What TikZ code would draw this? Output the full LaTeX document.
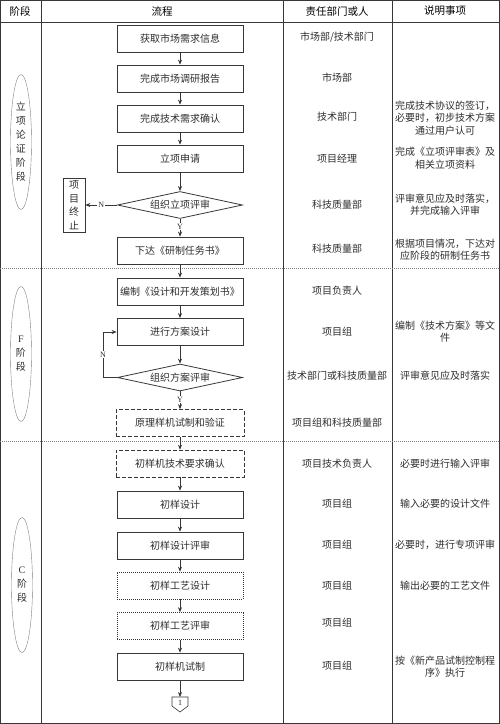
\documentclass[tikz,border=0pt]{standalone}
\usepackage{fontspec}
\setmainfont{Liberation Serif}
\newfontfamily\cjk{Noto Sans CJK SC}
\usepackage{tikz}
\usetikzlibrary{
	arrows.meta, shapes.geometric, positioning, calc
}
\definecolor{linegray}{RGB}{55,55,55}
\definecolor{textgray}{RGB}{45,45,45}
\tikzset{
	flowbox/.style={draw=linegray, line width=0.8pt, minimum width=126pt, minimum height=27pt,
		inner sep=1pt, font=\cjk\fontsize{10}{12}\selectfont, text=textgray},
	dashbox/.style={flowbox, line width=0.6pt, dash pattern=on 4pt off 2pt, minimum width=128pt},
	dotbox/.style={flowbox, line width=0.6pt, dash pattern=on 1pt off 1pt},
	decision/.style={diamond, draw=linegray, line width=0.8pt, aspect=4.8, minimum width=125pt,
		minimum height=27pt, inner sep=0pt, font=\cjk\fontsize{10}{12}\selectfont, text=textgray},
	phase/.style={ellipse, draw=gray, line width=0.4pt, minimum width=21pt, minimum height=135pt,
		inner sep=0pt, align=center, font=\cjk\fontsize{10}{14}\selectfont, text=textgray},
	note/.style={align=center, inner sep=0pt, font=\cjk\fontsize{10}{12.5}\selectfont, text=textgray},
	headtxt/.style={inner sep=0pt, font=\cjk\fontsize{10.5}{12}\selectfont, text=black},
	flow/.style={draw=linegray, line width=0.6pt, -{Stealth[length=5pt,width=4pt]}},
	yn/.style={fill=white, inner sep=1pt, font=\fontsize{8}{9}\selectfont, text=textgray},
	tableline/.style={draw=linegray, line width=0.8pt},
	phaseline/.style={draw=gray, line width=0.8pt, dash pattern=on 1pt off 1pt}
}
\begin{document}
\begin{tikzpicture}[x=1pt,y=-1pt]
	\useasboundingbox (0,0) rectangle (500,724);
	\draw[tableline] (0.5,0.5) rectangle (499.5,723.5);
	\draw[tableline] (0,22) -- (500,22);
	\foreach \x in {41,283,392}{\draw[tableline] (\x,0) -- (\x,724);}
	\foreach \y in {268,441}{\draw[phaseline] (0,\y) -- (500,\y);}

	\node[headtxt] (hphase) at (20,11) {阶段};
	\node[headtxt] (hflow) at (162,11) {流程};
	\node[headtxt] (hdept) at (337,11) {责任部门或人};
	\node[headtxt] (hnote) at (445,11) {说明事项};

	\node[phase] (ph1) at (21,142) {立\\项\\论\\证\\阶\\段};
	\node[phase] (ph2) at (21,354) {{\rmfamily F}\\阶\\段};
	\node[phase] (ph3) at (22,585) {{\rmfamily C}\\阶\\段};

	\node[flowbox] (b1) at (180,38.5) {获取市场需求信息};
	\node[flowbox] (b2) at (180,78.5) {完成市场调研报告};
	\node[flowbox] (b3) at (180,118.5) {完成技术需求确认};
	\node[flowbox] (b4) at (180,158.5) {立项申请};
	\node[decision] (d1) at (180,205) {组织立项评审};
	\node[flowbox] (b5) at (180,250.5) {下达《研制任务书》};
	\node[flowbox] (b6) at (180,291.5) {编制《设计和开发策划书》};
	\node[flowbox] (b7) at (180,332) {进行方案设计};
	\node[decision] (d2) at (180,377.5) {组织方案评审};
	\node[dashbox] (b8) at (180,423) {原理样机试制和验证};
	\node[dashbox] (b9) at (180,463.5) {初样机技术要求确认};
	\node[flowbox] (b10) at (180,504.5) {初样设计};
	\node[flowbox] (b11) at (180,545.5) {初样设计评审};
	\node[dotbox] (b12) at (180,585.5) {初样工艺设计};
	\node[dotbox] (b13) at (180,626) {初样工艺评审};
	\node[flowbox] (b14) at (180,666.5) {初样机试制};
	\node[draw=linegray, line width=0.6pt, minimum width=22pt, minimum height=54pt, inner sep=0pt,
		align=center, font=\cjk\fontsize{10}{13.5}\selectfont, text=textgray] (stop) at (74,205) {项\\目\\终\\止};

	\node[inner sep=0pt, font=\fontsize{8}{9}\selectfont, text=textgray] (off) at (180,703) {1};
	\coordinate (offtop) at (180,697);
	\draw[linegray, line width=0.6pt] (offtop) -- ++(8,0) -- ++(0,9) -- ++(-8,6) -- ++(-8,-6) -- ++(0,-9) -- cycle;

	\foreach \a/\b in {b1/b2,b2/b3,b3/b4,b4/d1,b5/b6,b6/b7,b7/d2,b8/b9,b9/b10,b10/b11,b11/b12,b12/b13,b13/b14}{
		\draw[flow] (\a) -- (\b);
	}
	\draw[flow] (b14) -- (offtop);
	\draw[flow] (d1) -- (b5) node[yn, pos=0.45] {Y};
	\draw[flow] (d2) -- (b8) node[yn, pos=0.45] {Y};
	\draw[flow] (d1.west) -- (stop.east) node[yn, midway] {N};
	\draw[flow] (d2.west) -- ++(-14,0) |- (b7.west) node[yn, pos=0.25] {N};

	\node[note] (r1) at (337,37) {市场部/技术部门};
	\node[note] (r2) at (337,78) {市场部};
	\node[note] (r3) at (337,117) {技术部门};
	\node[note] (r4) at (337,159) {项目经理};
	\node[note] (r5) at (337,205) {科技质量部};
	\node[note] (r6) at (337,249) {科技质量部};
	\node[note] (r7) at (337,291) {项目负责人};
	\node[note] (r8) at (337,332) {项目组};
	\node[note] (r9) at (337,376) {技术部门或科技质量部};
	\node[note] (r10) at (337,423) {项目组和科技质量部};
	\node[note] (r11) at (337,464) {项目技术负责人};
	\node[note] (r12) at (337,504) {项目组};
	\node[note] (r13) at (337,545) {项目组};
	\node[note] (r14) at (337,586) {项目组};
	\node[note] (r15) at (337,623) {项目组};
	\node[note] (r16) at (337,666) {项目组};

	\node[note] (n1) at (445,118) {完成技术协议的签订，\\必要时，初步技术方案\\通过用户认可};
	\node[note] (n2) at (445,158) {完成《立项评审表》及\\相关立项资料};
	\node[note] (n3) at (445,204.5) {评审意见应及时落实，\\并完成输入评审};
	\node[note] (n4) at (445,249.5) {根据项目情况，下达对\\应阶段的研制任务书};
	\node[note] (n5) at (445,331.5) {编制《技术方案》等文\\件};
	\node[note] (n6) at (445,376) {评审意见应及时落实};
	\node[note] (n7) at (445,464) {必要时进行输入评审};
	\node[note] (n8) at (445,504) {输入必要的设计文件};
	\node[note] (n9) at (445,545) {必要时，进行专项评审};
	\node[note] (n10) at (445,586) {输出必要的工艺文件};
	\node[note] (n11) at (445,666.5) {按《新产品试制控制程\\序》执行};
\end{tikzpicture}
\end{document}
